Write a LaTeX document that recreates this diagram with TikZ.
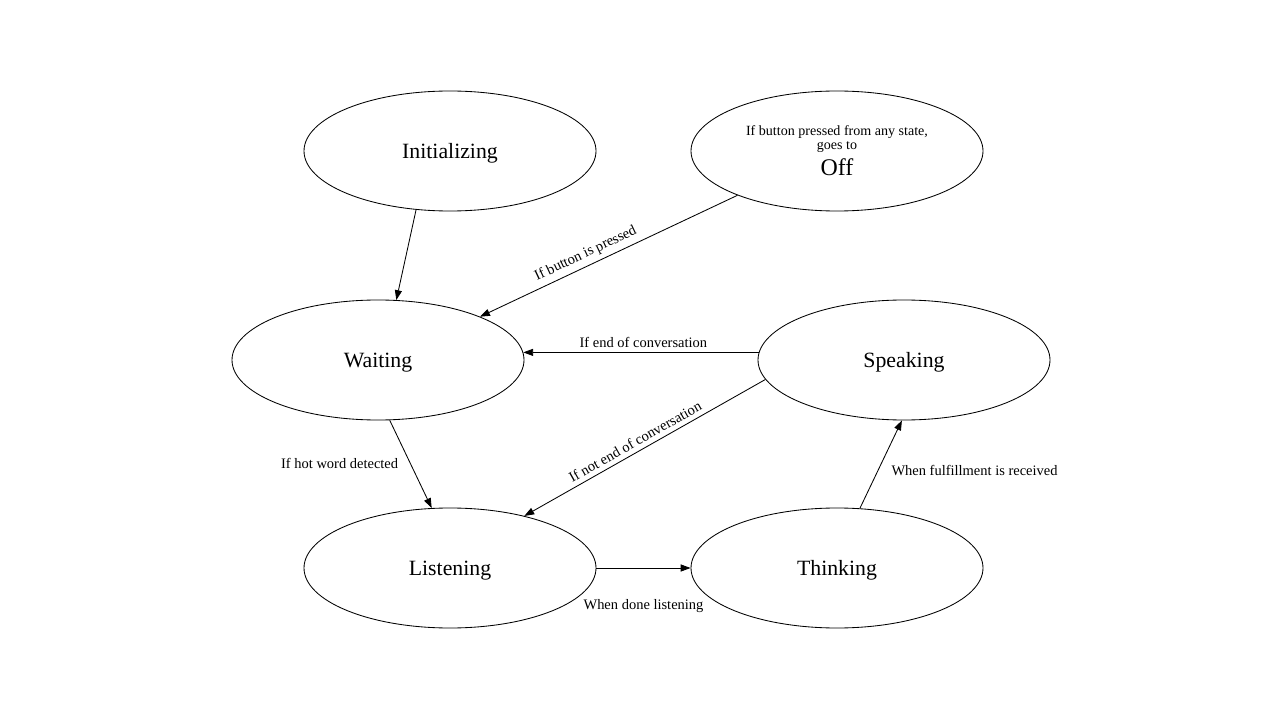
\documentclass[tikz,border=0pt]{standalone}
\usepackage{fontspec}
\setmainfont{Liberation Serif}
\usetikzlibrary{arrows.meta,shapes.geometric}

\begin{document}
\begin{tikzpicture}[state/.style={ellipse,draw,line width=0.6pt,minimum width=7.3cm,minimum height=3cm,inner sep=0pt,text depth=0pt,font=\fontsize{15.5}{18}\selectfont},
  trans/.style={-{Triangle[length=7pt,width=5pt]},line width=0.6pt},
  lbl/.style={font=\fontsize{10.3}{12}\selectfont}]
\useasboundingbox (0,0) rectangle (32,18);
\node[state] at (11.25,14.225) (init) {Initializing};
\node[state,text depth=,align=center,font=\fontsize{10}{9.5}\selectfont] at (20.925,14.225) (off) {If button pressed from any state,\\ goes to\\[4pt] \fontsize{17}{17}\selectfont Off};
\node[state] at (9.45,9) (wait) {Waiting};
\node[state] at (22.6,9) (speak) {Speaking};
\node[state] at (11.25,3.8) (listen) {Listening};
\node[state] at (20.925,3.8) (think) {Thinking};
\draw[trans] (init.240) -- (wait.73);
\draw[trans] (off.204) -- node[lbl,sloped,above,pos=0.57] {If button is pressed} (wait.23);
\draw[trans] (speak.177) -- node[lbl,above,pos=0.49] {If end of conversation} (wait.3);
\draw[trans] (speak.188) -- node[lbl,sloped,above,pos=0.52] {If not end of conversation} (listen.35);
\draw[trans] (wait.281) -- node[lbl,left=5pt,pos=0.49] {If hot word detected} (listen.107);
\draw[trans] (listen.east) -- node[lbl,below=19pt] {When done listening} (think.west);
\draw[trans] (think.69) -- node[lbl,right=6pt,pos=0.43] {When fulfillment is received} (speak.268);
\end{tikzpicture}
\end{document}
